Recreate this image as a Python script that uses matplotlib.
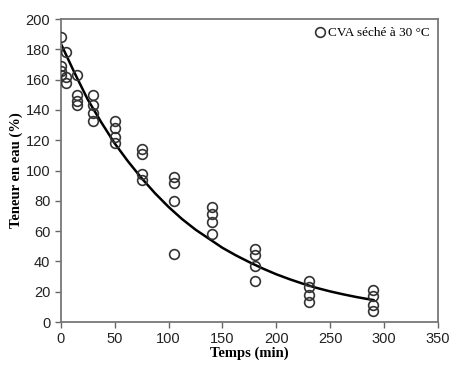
import numpy as np
import matplotlib
matplotlib.use("Agg")
import matplotlib.pyplot as plt

# measured water content (%) for each drying time (min)
temps = [0, 0, 0, 0, 5, 5, 5,
         15, 15, 15, 15,
         30, 30, 30, 30,
         50, 50, 50, 50,
         75, 75, 75, 75,
         105, 105, 105, 105,
         140, 140, 140, 140,
         180, 180, 180, 180,
         230, 230, 230, 230,
         290, 290, 290, 290]
teneur = [188, 169, 166, 163, 178, 162, 158,
          163, 150, 146, 143,
          150, 143, 138, 133,
          133, 128, 122, 118,
          114, 111, 98, 94,
          96, 92, 80, 45,
          76, 71, 66, 58,
          48, 44, 37, 27,
          27, 23, 18, 13,
          21, 17, 11, 7]

# trend curve
courbe_t = [0, 12.5, 25, 37.5, 50, 62.5, 75, 87.5, 100, 112.5, 125, 137.5,
            150, 162.5, 175, 187.5, 200, 212.5, 225, 237.5, 250, 262.5, 275, 290]
courbe_w = [184, 165, 147, 132, 118, 106, 95, 85, 76, 68, 61, 55,
            49, 44, 39.5, 35.3, 31.5, 28.2, 25.2, 22.5, 20.2, 18.2, 16.4, 14.5]

fig = plt.figure(figsize=(4.53, 3.74), dpi=100)
ax = fig.add_axes([0.134, 0.139, 0.833, 0.810])

ax.plot(temps, teneur, 'o', ms=7, mfc='none', mec='#333333', mew=1.2,
        label='CVA séché à 30 °C', zorder=3)
ax.plot(courbe_t, courbe_w, '-', color='black', lw=1.8, zorder=2)

ax.set_xlim(0, 350)
ax.set_ylim(0, 200)
ax.set_xticks(range(0, 351, 50))
ax.set_yticks(range(0, 201, 20))
ax.tick_params(direction='out', length=4, width=1, color='#666666',
               labelsize=10.5, labelcolor='#222222')
for lab in ax.get_xticklabels() + ax.get_yticklabels():
    lab.set_family('Liberation Sans')
for s in ax.spines.values():
    s.set_color('#777777')
    s.set_linewidth(1.3)

ax.set_xlabel('Temps (min)', family='Liberation Serif', fontweight='bold',
              fontsize=10.5, labelpad=0)
ax.set_ylabel('Teneur en eau (%)', family='Liberation Serif', fontweight='bold',
              fontsize=10.5, labelpad=2)

leg = ax.legend(loc='upper right', frameon=False, handletextpad=0.1,
                handlelength=1.0, borderaxespad=0.2,
                prop={'family': 'Liberation Serif', 'size': 9.5})

fig.savefig('out.png', dpi=100)
